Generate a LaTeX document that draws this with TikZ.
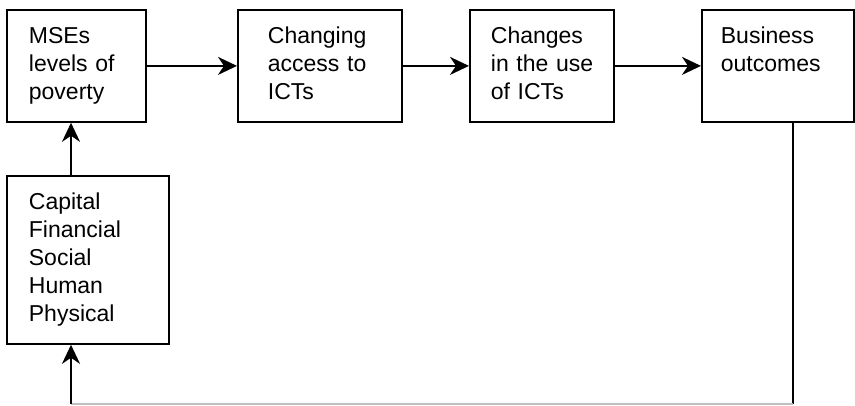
\documentclass[tikz,border=0pt]{standalone}
\usepackage{fontspec}
\setmainfont{Liberation Sans}
\usetikzlibrary{arrows.meta}
\begin{document}
\begin{tikzpicture}[x=1pt,y=-1pt,
  box/.style={draw, line width=1.8pt, anchor=north west, align=left,
    inner ysep=0pt, font=\fontsize{23}{28}\selectfont, text height=34pt},
  link/.style={line width=1.8pt, -{Stealth[length=19pt,width=18pt,inset=6pt]}}]
  \useasboundingbox (0,0) rectangle (855,405);
  % top row
  \node[box, text width=95pt, inner xsep=22pt, text depth=78pt] (mses) at (6,9) {MSEs\\levels of\\poverty};
  \node[box, text width=104pt, inner xsep=30pt, text depth=78pt] (access) at (237,9) {Changing\\access to\\ICTs};
  \node[box, text width=102pt, inner xsep=21pt, text depth=78pt] (use) at (469,9) {Changes\\\mbox{in the use}\\of ICTs};
  \node[box, text width=114pt, inner xsep=19pt, text depth=78pt] (outcomes) at (701,9) {Business\\outcomes};
  % capital box
  \node[box, text width=118pt, inner xsep=22pt, text depth=134pt] (capital) at (6,175) {Capital\\Financial\\Social\\Human\\Physical};
  \foreach \a/\b in {mses/access, access/use, use/outcomes} {
      \draw[link] (\a) -- (\b);
  }
  % feedback loop
  \coordinate (turn) at (793,404);
  \coordinate (back) at (71,404);
  \draw[line width=1.8pt] (outcomes.south -| turn) -- (turn);
  \draw[gray!50, line width=1.2pt] (turn) -- (back);
  \draw[link] (back) -- (capital.south -| back);
  \draw[link] (capital.north -| back) -- (mses.south -| back);
\end{tikzpicture}
\end{document}
